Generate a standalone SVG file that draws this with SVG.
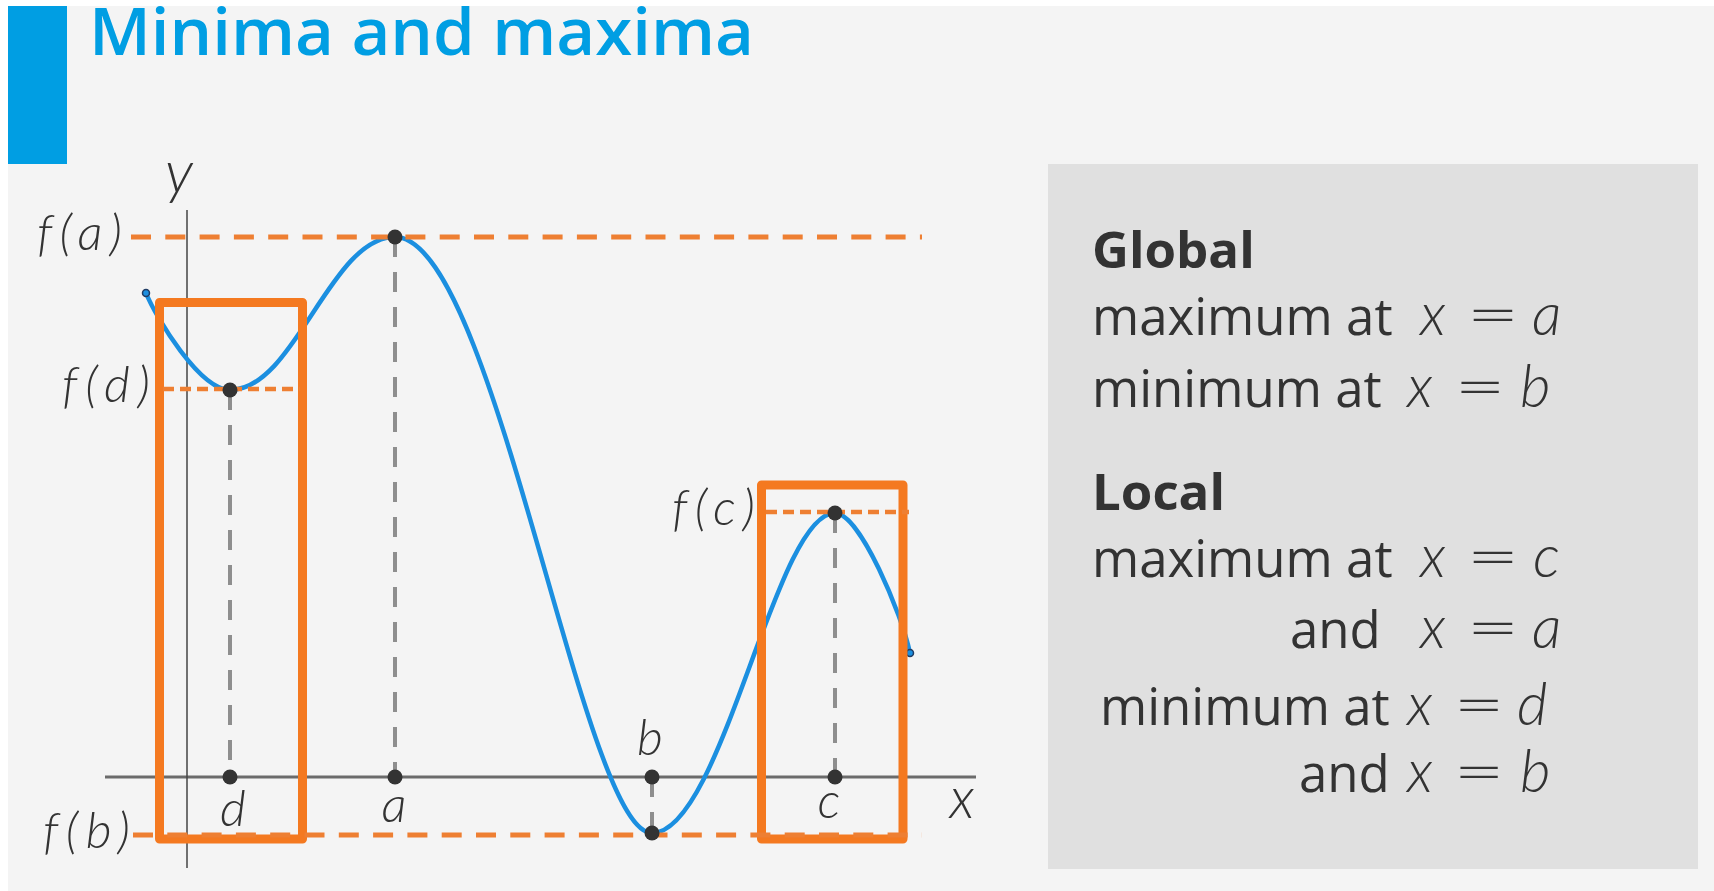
<svg xmlns="http://www.w3.org/2000/svg" width="1714" height="891" viewBox="0 0 1714 891">
<defs>
<style>
.body{font-family:"Open Sans","Liberation Sans",sans-serif;font-size:51px;fill:#333}
.bold{font-weight:700}
.math{font-family:Lato,"Open Sans","DejaVu Sans",sans-serif;font-style:italic;font-weight:300;font-size:50px;fill:#333}
.mathr{font-family:Lato,"Open Sans","DejaVu Sans",sans-serif;font-style:italic;font-weight:300;font-size:59px;fill:#333}
.eq{font-family:Lato,"Open Sans","DejaVu Sans",sans-serif;font-weight:300;font-size:60px;fill:#333}
.guide{stroke:#8e8e8e;stroke-width:4;stroke-dasharray:20 15;fill:none}
.lvl{stroke:#ee7f32;stroke-width:5;stroke-dasharray:20 14.3;fill:none}
.lvls{stroke:#ee7f32;stroke-width:4.5;stroke-dasharray:11 6;fill:none}
.box{fill:none;stroke:#f47920;stroke-width:9;stroke-linejoin:round}
.pt{fill:#333}
.end{fill:#1b8fe0;stroke:#1f3b63;stroke-width:1.5}
</style>
</defs>
<rect x="0" y="0" width="1714" height="891" fill="#ffffff"/>
<rect x="8" y="6" width="1706" height="885" fill="#f4f4f4"/>
<g id="header">
<rect x="8" y="6" width="59" height="158" fill="#009ee3"/>
<text x="89" y="55" font-family="'Open Sans','Liberation Sans',sans-serif" font-weight="600" font-size="66" fill="#009ee3" textLength="665" lengthAdjust="spacingAndGlyphs">Minima and maxima</text>
</g>
<g id="panel">
<rect x="1048" y="164" width="650" height="705" fill="#e0e0e0"/>
<text class="body bold" x="1092" y="268">Global</text>
<text class="body" x="1092" y="335">maximum at</text>
<text class="mathr" x="1420" y="335">x</text><text class="eq" transform="translate(1466,335) scale(1.55,1)">=</text><text class="mathr" x="1532" y="335">a</text>
<text class="body" x="1092" y="407">minimum at</text>
<text class="mathr" x="1407" y="407">x</text><text class="eq" transform="translate(1454,407) scale(1.5,1)">=</text><text class="mathr" x="1520" y="407">b</text>
<text class="body bold" x="1092" y="510">Local</text>
<text class="body" x="1092" y="577">maximum at</text>
<text class="mathr" x="1420" y="577">x</text><text class="eq" transform="translate(1466,577) scale(1.55,1)">=</text><text class="mathr" x="1533" y="577">c</text>
<text class="body" x="1290" y="648">and</text>
<text class="mathr" x="1420" y="648">x</text><text class="eq" transform="translate(1466,648) scale(1.55,1)">=</text><text class="mathr" x="1532" y="648">a</text>
<text class="body" x="1100" y="725">minimum at</text>
<text class="mathr" x="1407" y="725">x</text><text class="eq" transform="translate(1453,725) scale(1.5,1)">=</text><text class="mathr" x="1517" y="725">d</text>
<text class="body" x="1299" y="792">and</text>
<text class="mathr" x="1407" y="792">x</text><text class="eq" transform="translate(1453,792) scale(1.5,1)">=</text><text class="mathr" x="1520" y="792">b</text>
</g>
<g id="connectors">
<line class="guide" x1="230" y1="390" x2="230" y2="777"/>
<line class="guide" x1="395" y1="237" x2="395" y2="777"/>
<line class="guide" x1="835" y1="513" x2="835" y2="777"/>
<line class="guide" x1="652" y1="777" x2="652" y2="833"/>
</g>
<g id="axes">
<line x1="105" y1="777" x2="976" y2="777" stroke="#6b6b6b" stroke-width="3"/>
<line x1="187" y1="210" x2="187" y2="868" stroke="#444" stroke-width="1.5"/>
</g>
<g id="curve">
<path d="M146,293 C156,318 200,390 230,390 C295,390 330,237 395,237 C495,237 582,833 652,833 C722,833 775,513 835,513 C860,513 902,615 910,653" fill="none" stroke="#1b8fe0" stroke-width="4.5"/>
<circle class="end" cx="146" cy="293" r="3.5"/>
<circle class="end" cx="910" cy="653" r="3.5"/>
</g>
<g id="box-d"><rect class="box" x="159.5" y="302.5" width="143" height="536.5"/></g>
<g id="box-c"><rect class="box" x="761.5" y="485" width="141.5" height="354"/></g>
<g id="levels">
<line class="lvl" x1="131" y1="237" x2="922" y2="237"/>
<line class="lvl" x1="133" y1="835" x2="922" y2="835"/>
<line class="lvls" x1="163" y1="389" x2="300" y2="389"/>
<line class="lvls" x1="766" y1="512" x2="909" y2="512"/>
</g>
<g id="points">
<circle class="pt" cx="230" cy="390" r="7.5"/>
<circle class="pt" cx="395" cy="237" r="7.5"/>
<circle class="pt" cx="652" cy="833" r="7.5"/>
<circle class="pt" cx="835" cy="513" r="7.5"/>
<circle class="pt" cx="230" cy="777" r="7.5"/>
<circle class="pt" cx="395" cy="777" r="7.5"/>
<circle class="pt" cx="652" cy="777" r="7.5"/>
<circle class="pt" cx="835" cy="777" r="7.5"/>
</g>
<g id="labels">
<text class="math" x="165" y="193" style="font-size:60px">y</text>
<text class="math" x="37" y="250" textLength="85" lengthAdjust="spacing">f(a)</text>
<text class="math" x="62" y="402" textLength="88" lengthAdjust="spacing">f(d)</text>
<text class="math" x="43" y="848" textLength="87" lengthAdjust="spacing">f(b)</text>
<text class="math" x="672" y="525" textLength="83" lengthAdjust="spacing">f(c)</text>
<text class="math" x="233" y="826" text-anchor="middle">d</text>
<text class="math" x="394" y="822" text-anchor="middle">a</text>
<text class="math" x="650" y="755" text-anchor="middle">b</text>
<text class="math" x="829" y="818" text-anchor="middle">c</text>
<text class="math" x="962" y="818" text-anchor="middle" style="font-size:57px">x</text>
</g>
</svg>
